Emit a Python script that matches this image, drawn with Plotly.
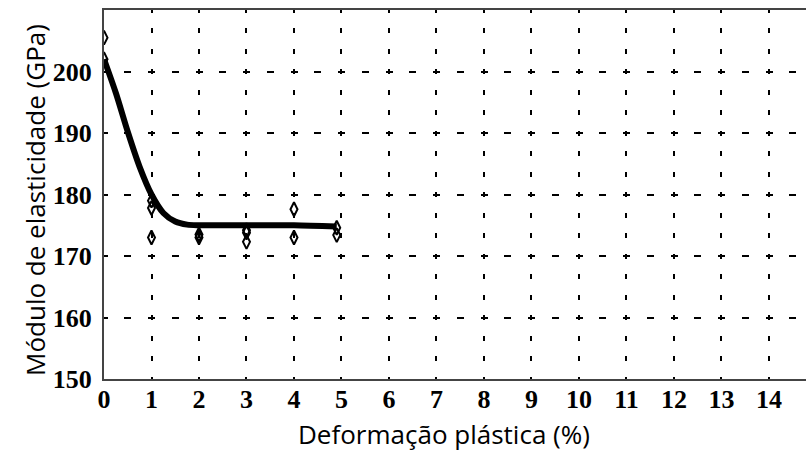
import plotly.graph_objects as go

# measured data points
pts_x = [0, 0, 1, 1, 1, 2, 2, 3, 3, 3, 4, 4, 4.9, 4.9]
pts_y = [205.5, 202.0, 179.0, 177.8, 173.0, 173.5, 173.0, 174.2, 172.3, 173.8, 177.6, 173.0, 174.6, 173.4]

# fitted trend curve
curve_x = [0, 0.25, 0.5, 0.75, 1.0, 1.25, 1.5, 1.75, 2.0, 3.0, 4.0, 4.9]
curve_y = [202.0, 196.5, 190.2, 184.5, 180.0, 177.0, 175.6, 175.1, 175.0, 175.0, 175.0, 174.8]

x_ticks = list(range(0, 15))
y_ticks = [150, 160, 170, 180, 190, 200]

x_title = "Deformação plástica (%)"
y_title = "Módulo de elasticidade (GPa)"

fig = go.Figure()
fig.add_trace(go.Scatter(x=curve_x, y=curve_y, mode="lines",
                         line=dict(color="black", width=6, shape="spline", smoothing=0.8),
                         hoverinfo="skip", showlegend=False))
fig.add_trace(go.Scatter(x=pts_x, y=pts_y, mode="markers",
                         marker=dict(symbol="diamond-tall-open", size=10, color="black",
                                     line=dict(width=2, color="black")),
                         showlegend=False))

tick_font = dict(family="Liberation Serif", size=26, color="black")
title_font = dict(family="Open Sans", size=26, color="black")

fig.update_layout(
    width=806, height=452,
    margin=dict(l=104, r=0, t=10, b=73),
    paper_bgcolor="white", plot_bgcolor="white",
    xaxis=dict(range=[0, 14.78], tickvals=x_ticks, ticktext=[f"<b>{v}</b>" for v in x_ticks],
               tickfont=tick_font, showgrid=True, gridcolor="black", gridwidth=2,
               griddash="2.5px,15.5px,2.5px,0px", zeroline=False, showline=True, linecolor="#444",
               linewidth=2, mirror=True, ticks="", ticklabelstandoff=-4, automargin=False),
    yaxis=dict(range=[150, 210], tickvals=y_ticks, ticktext=[f"<b>{v}</b>" for v in y_ticks],
               tickfont=tick_font, showgrid=True, gridcolor="black", gridwidth=1.6,
               griddash="3.5px,16.75px,3.5px,0px", zeroline=False, showline=True, linecolor="#444",
               linewidth=2, ticks="", ticklabelstandoff=5, automargin=False),
    annotations=[
        dict(text=x_title, xref="paper", yref="paper", x=(444 - 104) / 702, y=-(434 - 379) / 369,
             xanchor="center", yanchor="middle", showarrow=False, font=title_font),
        dict(text=y_title, xref="paper", yref="paper", x=-(104 - 35) / 702, y=(379 - 200) / 369,
             xanchor="center", yanchor="middle", showarrow=False, font=title_font, textangle=-90),
    ],
)

fig.write_html("out.html", config={"displayModeBar": False},
               post_script="document.body.style.margin='0';document.body.style.padding='0';")
